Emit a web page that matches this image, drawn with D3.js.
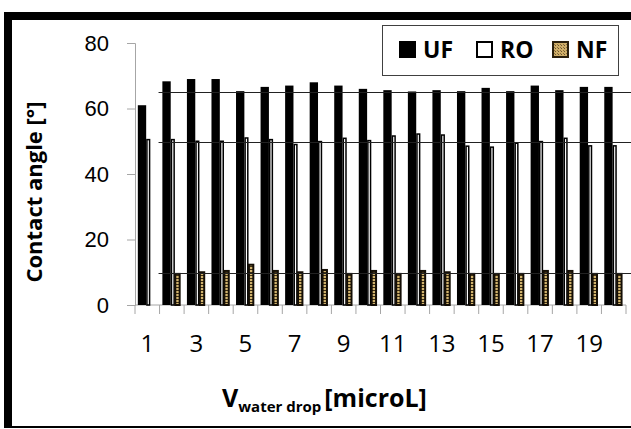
<!DOCTYPE html>
<html>
<head>
<meta charset="utf-8">
<script src="https://cdn.jsdelivr.net/npm/d3@7/dist/d3.min.js"></script>
<style>
  body { margin: 0; background: #fff; }
  svg { display: block; font-family: 'Open Sans', 'DejaVu Sans', sans-serif; }
  .axis path, .axis line { stroke: #a6a6a6; }
  .axis text { fill: #000; }
</style>
</head>
<body>
<svg id="chart" width="631" height="429"></svg>
<script>
'use strict';

// ========== data
const categories = d3.range(1, 21);
const tickLabels = [1, 3, 5, 7, 9, 11, 13, 15, 17, 19];
const yTicks = [0, 20, 40, 60, 80];
const seriesNames = ['UF', 'RO', 'NF'];
const ufValues = [61, 68.3, 69, 69, 65.3, 66.6, 67, 68, 67, 66, 65.6, 65.2, 65.6, 65.3, 66.3, 65.3, 67, 65.6, 66.6, 66.6];
const roValues = [50.5, 50.5, 50, 50, 51, 50.5, 49, 49.9, 50.9, 50.2, 51.6, 52.2, 51.9, 48.5, 48.2, 49.4, 49.9, 50.9, 48.6, 48.6];
const nfValues = [null, 9.5, 10, 10.4, 12.3, 10.4, 10, 10.7, 9.5, 10.4, 9.5, 10.4, 10, 9.5, 9.5, 9.5, 10.4, 10.4, 9.5, 9.5];
const refLines = [65, 49.7, 9.8];

// ========== layout
const plot = {left: 135, right: 626, top: 43, bottom: 305};
const svg = d3.select('#chart');

const x = d3.scaleBand()
  .domain(categories)
  .range([plot.left, plot.right])
  .padding(0);
const y = d3.scaleLinear()
  .domain([0, 80])
  .range([plot.bottom, plot.top]);
const bw = x.bandwidth();

// patterns for NF (bars are thin, so mostly dark with tan dashes)
const defs = svg.append('defs');
const pat = defs.append('pattern')
  .attr('id', 'nfpat')
  .attr('patternUnits', 'userSpaceOnUse')
  .attr('width', 3).attr('height', 3);
pat.append('rect').attr('width', 3).attr('height', 3).attr('fill', '#d2b46e');
pat.append('rect').attr('x', 0).attr('y', 2).attr('width', 3).attr('height', 1).attr('fill', '#3d2e14');
const lpat = defs.append('pattern')
  .attr('id', 'nflegpat')
  .attr('patternUnits', 'userSpaceOnUse')
  .attr('width', 3).attr('height', 3);
lpat.append('rect').attr('width', 3).attr('height', 3).attr('fill', '#cfae68');
lpat.append('rect').attr('x', 0).attr('y', 0).attr('width', 1).attr('height', 1).attr('fill', '#6b5530');
lpat.append('rect').attr('x', 2).attr('y', 2).attr('width', 1).attr('height', 1).attr('fill', '#8a6d3b');

// frame
svg.append('rect').attr('x', 4).attr('y', 12).attr('width', 627).attr('height', 8).attr('fill', '#000');
svg.append('rect').attr('x', 4).attr('y', 12).attr('width', 8).attr('height', 416).attr('fill', '#000');
svg.append('rect').attr('x', 4).attr('y', 426).attr('width', 627).attr('height', 2).attr('fill', '#000');

// axes
svg.append('g')
  .attr('class', 'axis')
  .attr('transform', `translate(${plot.left},0)`)
  .call(d3.axisLeft(y).tickValues(yTicks).tickSize(8).tickPadding(18))
  .call(g => g.selectAll('text').attr('font-size', 22));

const xAxis = svg.append('g')
  .attr('class', 'axis')
  .attr('transform', `translate(0,${plot.bottom})`);
xAxis.append('line')
  .attr('x1', plot.left).attr('x2', plot.right)
  .attr('y1', 0).attr('y2', 0);
xAxis.selectAll('line.tick')
  .data(categories.concat([null]))
  .enter().append('line')
  .attr('class', 'tick')
  .attr('x1', (d, i) => plot.left + i * bw)
  .attr('x2', (d, i) => plot.left + i * bw)
  .attr('y1', 0).attr('y2', 9);
xAxis.selectAll('text')
  .data(tickLabels)
  .enter().append('text')
  .attr('x', d => x(d) + bw / 2)
  .attr('y', 47)
  .attr('text-anchor', 'middle')
  .attr('font-size', 24)
  .text(d => d);

// bars
const ufBars = svg.append('g');
ufBars.selectAll('rect')
  .data(categories)
  .enter().append('rect')
  .attr('x', d => x(d) + bw * 0.115)
  .attr('width', bw * 0.34)
  .attr('y', (d, i) => y(ufValues[i]))
  .attr('height', (d, i) => y(0) - y(ufValues[i]))
  .attr('fill', '#000');

const roBars = svg.append('g');
roBars.selectAll('rect')
  .data(categories)
  .enter().append('rect')
  .attr('x', d => x(d) + bw * 0.455 + 0.75)
  .attr('width', bw * 0.17 - 1.5)
  .attr('y', (d, i) => y(roValues[i]))
  .attr('height', (d, i) => y(0) - y(roValues[i]))
  .attr('fill', '#fff')
  .attr('stroke', '#000')
  .attr('stroke-width', 1.5);

const nfBars = svg.append('g');
nfBars.selectAll('rect')
  .data(categories.filter((d, i) => nfValues[i] != null))
  .enter().append('rect')
  .attr('x', d => x(d) + bw * 0.6 + 1)
  .attr('width', bw * 0.26 - 2)
  .attr('y', d => y(nfValues[d - 1]))
  .attr('height', d => y(0) - y(nfValues[d - 1]))
  .attr('fill', 'url(#nfpat)')
  .attr('stroke', '#140e05')
  .attr('stroke-width', 2);

// reference lines
svg.append('g').selectAll('line')
  .data(refLines)
  .enter().append('line')
  .attr('x1', x(2) - 1)
  .attr('x2', 631)
  .attr('y1', d => Math.round(y(d)) + 0.5)
  .attr('y2', d => Math.round(y(d)) + 0.5)
  .attr('stroke', '#222')
  .attr('stroke-width', 1.2);

// axis titles
svg.append('text')
  .attr('transform', 'translate(42,192) rotate(-90)')
  .attr('text-anchor', 'middle')
  .attr('font-size', 22)
  .attr('font-weight', 'bold')
  .text('Contact angle [°]');

const xt = svg.append('text')
  .attr('x', 222)
  .attr('y', 407)
  .attr('font-weight', 'bold')
  .attr('font-size', 25);
xt.append('tspan').text('V');
xt.append('tspan').attr('font-size', 15).attr('dy', 5).text('water drop');
xt.append('tspan').attr('dy', -5).attr('dx', 3).text('[microL]');

// legend
const legend = svg.append('g');
legend.append('rect')
  .attr('x', 382.5).attr('y', 25.5)
  .attr('width', 236).attr('height', 50)
  .attr('fill', '#fff')
  .attr('stroke', '#404040');
const legX = [399, 476, 552];
const swatch = [
  {fill: '#000', stroke: '#000'},
  {fill: '#fff', stroke: '#000'},
  {fill: 'url(#nflegpat)', stroke: '#2a1f0c'}
];
legend.selectAll('rect.sw')
  .data(seriesNames)
  .enter().append('rect')
  .attr('class', 'sw')
  .attr('x', (d, i) => legX[i] + 1)
  .attr('y', 42)
  .attr('width', 15).attr('height', 15)
  .attr('fill', (d, i) => swatch[i].fill)
  .attr('stroke', (d, i) => swatch[i].stroke)
  .attr('stroke-width', 2);
legend.selectAll('text')
  .data(seriesNames)
  .enter().append('text')
  .attr('x', (d, i) => legX[i] + 24)
  .attr('y', 58)
  .attr('font-size', 23)
  .attr('font-weight', 'bold')
  .text(d => d);
</script>
</body>
</html>
